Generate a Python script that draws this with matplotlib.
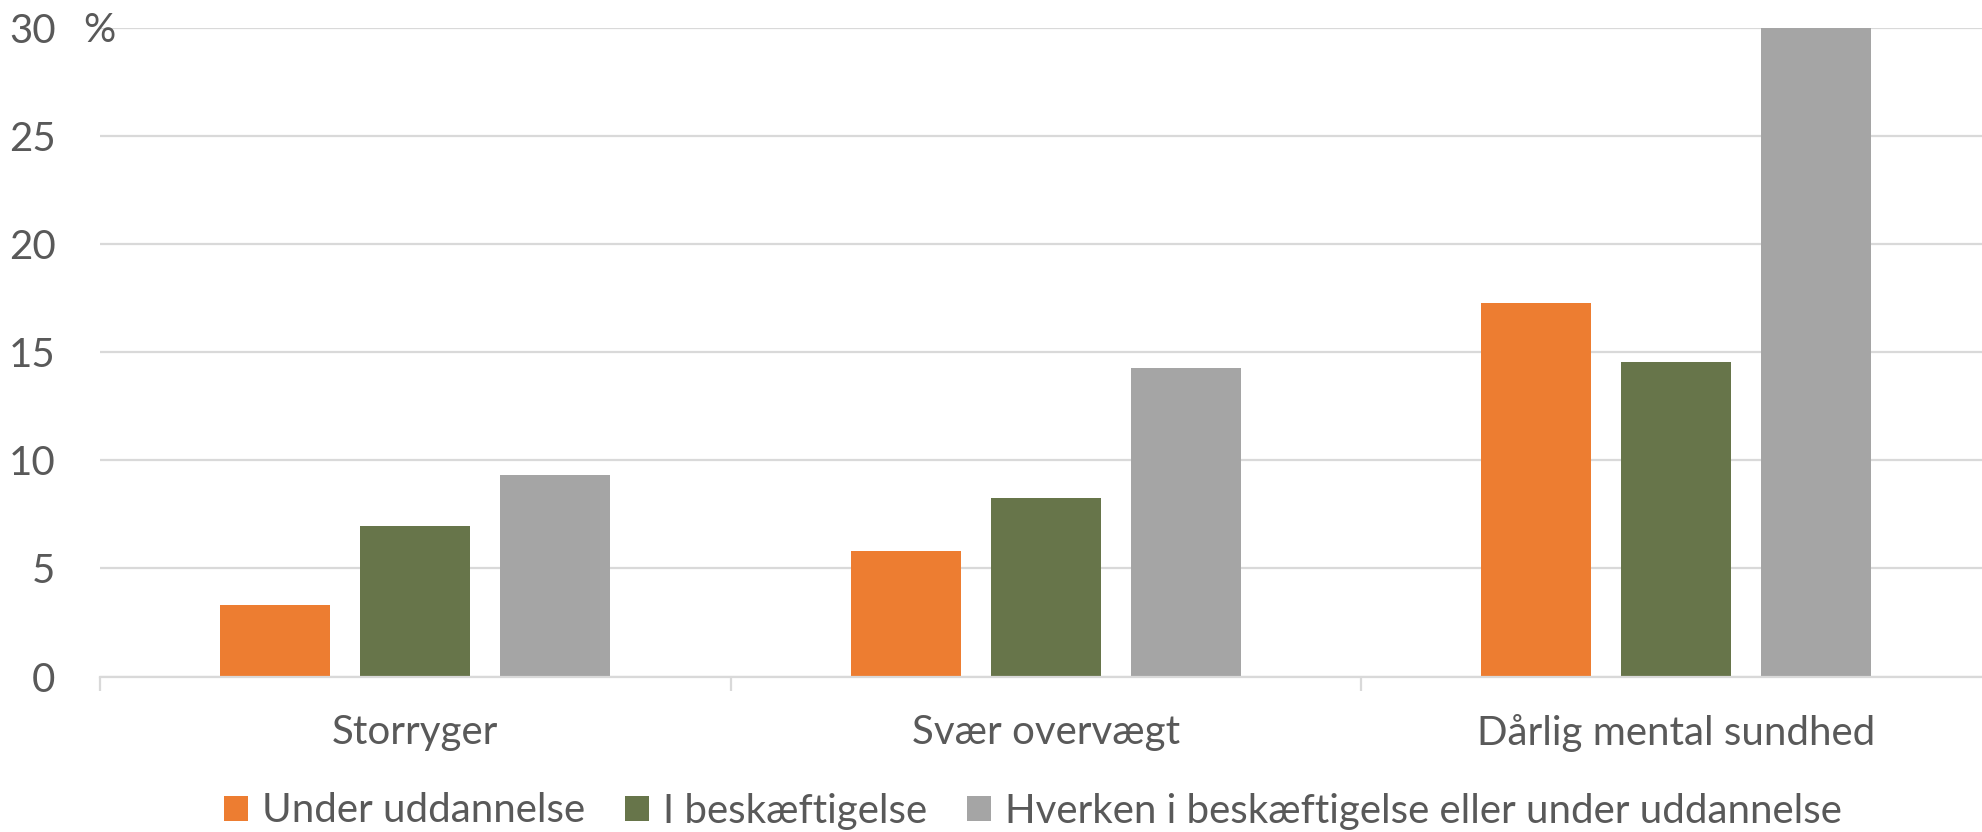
import matplotlib
matplotlib.use("Agg")
import matplotlib.pyplot as plt
from matplotlib.patches import Patch
import numpy as np

categories = ["Storryger", "Svær overvægt", "Dårlig mental sundhed"]
series_names = ["Under uddannelse", "I beskæftigelse",
                "Hverken i beskæftigelse eller under uddannelse"]
under_uddannelse = [3.3, 5.8, 17.3]
i_beskaeftigelse = [6.95, 8.25, 14.55]
hverken = [9.3, 14.25, 30.0]
y_ticks = [0, 5, 10, 15, 20, 25, 30]

colors = ["#ED7D31", "#67754A", "#A5A5A5"]
text_color = "#595959"
grid_color = "#D9D9D9"

plt.rcParams["font.family"] = ["Lato", "DejaVu Sans"]

W, H, DPI = 1982, 832, 100
fig = plt.figure(figsize=(W / DPI, H / DPI), dpi=DPI)
fig.patch.set_facecolor("white")

left_px, right_px = 100, 1991.5
bottom_px, top_px = 155.5, 804
ax = fig.add_axes([left_px / W, bottom_px / H,
                   (right_px - left_px) / W, (top_px - bottom_px) / H])

x = np.arange(len(categories))
bar_w = 0.1745
step = 0.222
for i, (vals, name, c) in enumerate(zip([under_uddannelse, i_beskaeftigelse, hverken],
                                        series_names, colors)):
    ax.bar(x + (i - 1) * step, vals, width=bar_w, color=c, label=name,
           zorder=3, linewidth=0)

ax.set_xlim(-0.5, 2.5)
ax.set_ylim(0, 30)
ax.set_yticks(y_ticks)
ax.set_yticklabels([str(v) for v in y_ticks])
ax.yaxis.grid(True, color=grid_color, linewidth=1.6, zorder=0)
ax.set_axisbelow(True)

ax.set_xticks(x)
ax.set_xticklabels(categories)
ax.set_xticks([-0.5, 0.5, 1.5, 2.5], minor=True)
ax.tick_params(axis="x", which="major", length=0, pad=27, labelsize=29,
               labelcolor=text_color)
ax.tick_params(axis="x", which="minor", length=10, width=1.6, color=grid_color,
               direction="out")
ax.tick_params(axis="y", length=0, pad=32, labelsize=29, labelcolor=text_color)

for s in ["top", "right", "left"]:
    ax.spines[s].set_visible(False)
ax.spines["bottom"].set_color(grid_color)
ax.spines["bottom"].set_linewidth(1.6)
ax.spines["bottom"].set_zorder(4)

fig.text(83 / W, 1 - 30 / H, "%", ha="left", va="center",
         fontsize=29, color=text_color)

handles = [Patch(facecolor=c, edgecolor="none") for c in colors]
fig.legend(handles, series_names, loc="center", ncol=3,
           bbox_to_anchor=(1033 / W, 1 - 811 / H), frameon=False,
           fontsize=29, labelcolor=text_color, handlelength=0.58,
           handleheight=0.58, handletextpad=0.35, columnspacing=1.0,
           borderpad=0, borderaxespad=0)

fig.savefig("out.png", dpi=DPI, facecolor="white")
